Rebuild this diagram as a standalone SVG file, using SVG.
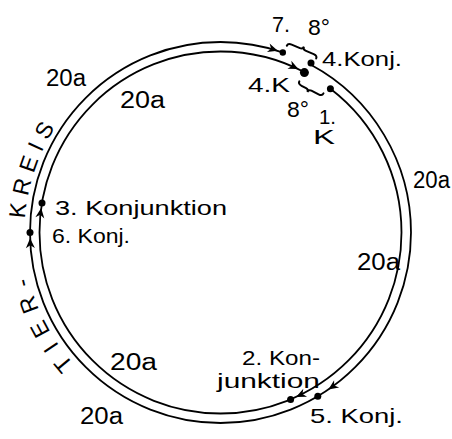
<svg xmlns="http://www.w3.org/2000/svg" xmlns:xlink="http://www.w3.org/1999/xlink" width="452" height="439" viewBox="0 0 452 439">
<style>
.t{font-family:"Liberation Sans",Arial,sans-serif;fill:#000}
.c{fill:none;stroke:#000;stroke-width:1.8}
.d{fill:#000}
.b{fill:none;stroke:#000;stroke-width:2;stroke-linecap:round}
</style>
<defs>
<path id="ah" d="M0,0 L-10,-4.5 L-7,0 L-10,4.5 Z" fill="#000"/>
<path id="pTier" d="M74.1,364.3 A197,197 0 0 1 28.5,276.8"/>
<path id="pKreis" d="M25.0,218.8 A196,196 0 0 1 56.1,125.8"/>
</defs>
<rect width="452" height="439" fill="#fff"/>
<g id="connectors">
<circle id="inner-circle" class="c" cx="220.5" cy="232.5" r="181" stroke-dasharray="940.1 31 200"/>
<circle id="outer-circle" class="c" cx="220.5" cy="232.5" r="190.5" stroke-dasharray="961.2 30.3 250"/>
<use xlink:href="#ah" transform="translate(277.8,50.8) rotate(17.5)"/>
<use xlink:href="#ah" transform="translate(298.4,69.1) rotate(25.5)"/>
<use xlink:href="#ah" transform="translate(41.2,207.9) rotate(277.8)"/>
<use xlink:href="#ah" transform="translate(30.1,238.2) rotate(268.3)"/>
<use xlink:href="#ah" transform="translate(296.1,396.9) rotate(155.3)"/>
<use xlink:href="#ah" transform="translate(328.4,389.5) rotate(145.5)"/>
<path class="b" d="M0,3 Q0,0 4,0 L13,0 Q16,0 16,-3 Q16,0 19,0 L28,0 Q32,0 32,3" transform="translate(288,43) rotate(23.4)"/>
<path class="b" d="M0,-3 Q0,0 4,0 L9,0 Q12,0 12,3 Q12,0 15,0 L23,0 Q27,0 27,-3" transform="translate(298,84) rotate(26.6)"/>
</g>
<g id="k7"><circle class="d" cx="282.8" cy="52.5" r="3.2"/><text class="t" x="272" y="32" font-size="22" textLength="18" lengthAdjust="spacingAndGlyphs">7.</text></g>
<g id="k4konj"><circle class="d" cx="311" cy="63" r="3.5"/><text class="t" x="322" y="66" font-size="21" textLength="80" lengthAdjust="spacingAndGlyphs">4.Konj.</text></g>
<g id="k4k"><circle class="d" cx="304.4" cy="72.6" r="4.5"/><text class="t" x="248" y="92" font-size="21" textLength="42" lengthAdjust="spacingAndGlyphs">4.K</text></g>
<g id="k1"><circle class="d" cx="330.4" cy="88.7" r="3.5"/><text class="t" x="319" y="124" font-size="20" textLength="17" lengthAdjust="spacingAndGlyphs">1.</text><text class="t" x="313" y="144" font-size="21" textLength="22" lengthAdjust="spacingAndGlyphs">K</text></g>
<g id="deg-top"><text class="t" x="308" y="35" font-size="22" textLength="22" lengthAdjust="spacingAndGlyphs">8°</text></g>
<g id="deg-low"><text class="t" x="287" y="117" font-size="22" textLength="22" lengthAdjust="spacingAndGlyphs">8°</text></g>
<g id="k3"><circle class="d" cx="42" cy="203" r="3.5"/><text class="t" x="55" y="215" font-size="21" textLength="172" lengthAdjust="spacingAndGlyphs">3. Konjunktion</text></g>
<g id="k6"><circle class="d" cx="30" cy="232.5" r="3.5"/><text class="t" x="52" y="243" font-size="21" textLength="78" lengthAdjust="spacingAndGlyphs">6. Konj.</text></g>
<g id="k2"><circle class="d" cx="290.6" cy="399.4" r="3.5"/><text class="t" x="242" y="365" font-size="21" textLength="78" lengthAdjust="spacingAndGlyphs">2. Kon-</text><text class="t" x="217" y="388" font-size="21" textLength="103" lengthAdjust="spacingAndGlyphs">junktion</text></g>
<g id="k5"><circle class="d" cx="317.8" cy="396.3" r="3.5"/><text class="t" x="310" y="423" font-size="21" textLength="93" lengthAdjust="spacingAndGlyphs">5. Konj.</text></g>
<g id="years">
<text class="t" x="46" y="86" font-size="23" textLength="40" lengthAdjust="spacingAndGlyphs">20a</text>
<text class="t" x="120" y="108" font-size="23" textLength="45" lengthAdjust="spacingAndGlyphs">20a</text>
<text class="t" x="413" y="188" font-size="23" textLength="37" lengthAdjust="spacingAndGlyphs">20a</text>
<text class="t" x="357" y="270" font-size="23" textLength="43" lengthAdjust="spacingAndGlyphs">20a</text>
<text class="t" x="110" y="370" font-size="23" textLength="47" lengthAdjust="spacingAndGlyphs">20a</text>
<text class="t" x="80" y="424" font-size="23" textLength="43" lengthAdjust="spacingAndGlyphs">20a</text>
</g>
<g id="tierkreis">
<text class="t" font-size="23"><textPath xlink:href="#pTier" textLength="99">TIER-</textPath></text>
<text class="t" font-size="23"><textPath xlink:href="#pKreis" textLength="97">KREIS</textPath></text>
</g>
</svg>
